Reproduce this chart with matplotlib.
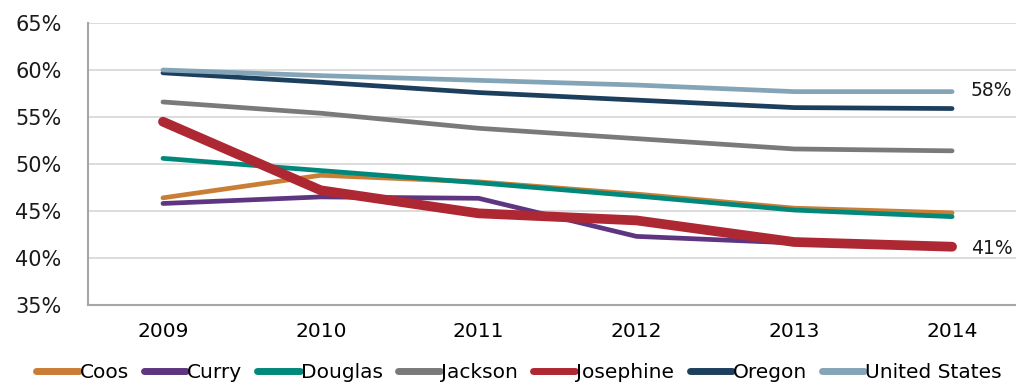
import matplotlib
matplotlib.use("Agg")
import matplotlib.pyplot as plt
from matplotlib.ticker import FuncFormatter

# Share of population, by county / area
years = ["2009", "2010", "2011", "2012", "2013", "2014"]

coos = [46.4, 48.8, 48.1, 46.8, 45.3, 44.8]
curry = [45.8, 46.5, 46.35, 42.3, 41.6, 41.4]
douglas = [50.6, 49.3, 48.0, 46.6, 45.1, 44.4]
jackson = [56.6, 55.4, 53.8, 52.7, 51.6, 51.4]
josephine = [54.5, 47.2, 44.75, 44.0, 41.7, 41.2]
oregon = [59.7, 58.7, 57.6, 56.8, 56.0, 55.9]
united_states = [60.0, 59.4, 58.9, 58.4, 57.7, 57.7]

series = [
    ("Coos", coos, "#C97D35", 3.4),
    ("Curry", curry, "#5E3580", 3.4),
    ("Douglas", douglas, "#00897B", 3.4),
    ("Jackson", jackson, "#7A7A7A", 3.4),
    ("Josephine", josephine, "#AE2833", 7.0),
    ("Oregon", oregon, "#1D3F5E", 3.4),
    ("United States", united_states, "#84A5B8", 3.4),
]

narrow = ["DejaVu Sans Condensed", "DejaVu Sans"]

fig = plt.figure(figsize=(10.16, 3.85), dpi=100)
ax = fig.add_axes([88 / 1016, 80 / 385, 928 / 1016, 282 / 385])

x = list(range(len(years)))
for name, vals, color, lw in series:
    ax.plot(x, vals, color=color, lw=lw, label=name,
            solid_capstyle="round", solid_joinstyle="round")

ax.set_ylim(35, 65)
ax.set_yticks(range(35, 66, 5))
ax.yaxis.set_major_formatter(FuncFormatter(lambda v, p: f"{v:.0f}%"))
ax.set_xlim(-0.475, 5.405)
ax.set_xticks(x)
ax.set_xticklabels(years, family=narrow, fontsize=14.5)
for t in ax.get_yticklabels():
    t.set_fontsize(15)
    t.set_color("#1a1a1a")

ax.grid(axis="y", color="#D9D9D9", lw=1.3)
ax.set_axisbelow(True)
ax.tick_params(axis="both", length=0)
ax.tick_params(axis="y", pad=19)
ax.tick_params(axis="x", pad=12)
for s in ["top", "right"]:
    ax.spines[s].set_visible(False)
for s in ["left", "bottom"]:
    ax.spines[s].set_color("#A6A6A6")
    ax.spines[s].set_linewidth(1.5)

# end-of-line value labels
ax.text(5.12, united_states[-1] + 0.15, f"{united_states[-1]:.0f}%",
        va="center", ha="left", fontsize=13.5, color="#1a1a1a")
ax.text(5.12, josephine[-1] - 0.15, f"{josephine[-1]:.0f}%",
        va="center", ha="left", fontsize=13.5, color="#1a1a1a")

leg = fig.legend(loc="lower center", bbox_to_anchor=(0.511, -0.04), ncol=7,
                 frameon=False, handlelength=2.1, handletextpad=0.05,
                 columnspacing=0.75, prop={"family": narrow, "size": 14.5})
for h in leg.get_lines():
    h.set_linewidth(5)
    h.set_solid_capstyle("round")

fig.savefig("out.png", dpi=100)
